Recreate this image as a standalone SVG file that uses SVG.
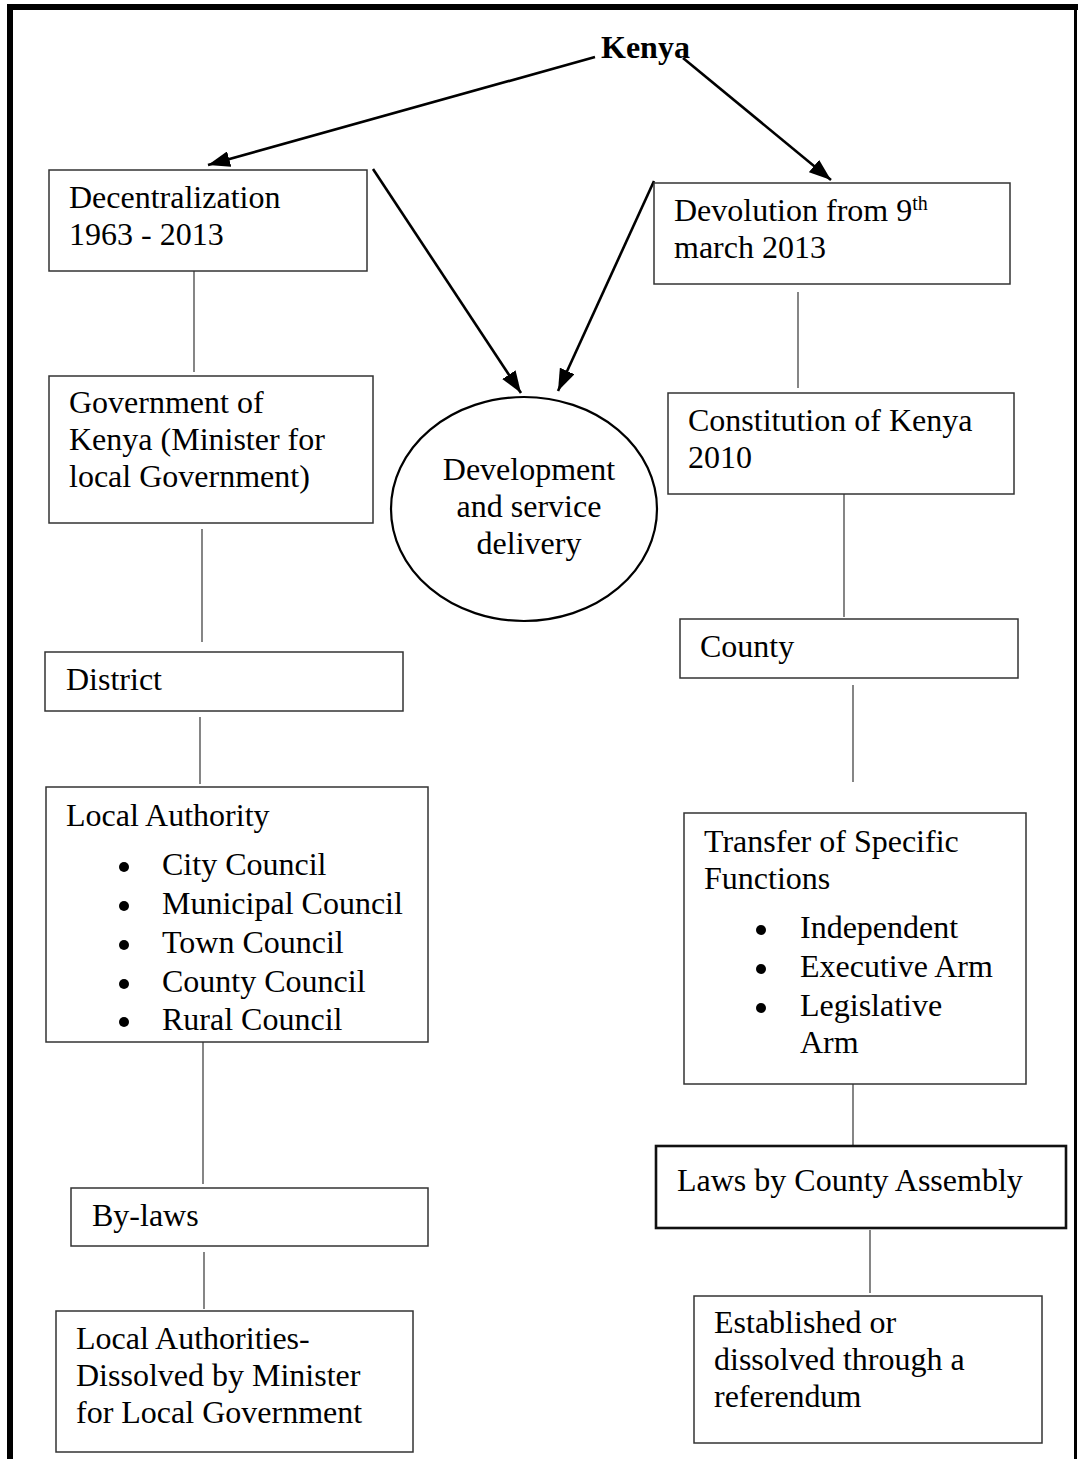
<svg xmlns="http://www.w3.org/2000/svg" width="1079" height="1459" viewBox="0 0 1079 1459">
<style>
text{font-family:"Liberation Serif","Times New Roman",serif;font-size:32px;fill:#000}
.b{font-weight:bold}
.box{fill:#fff;stroke:#333;stroke-width:1.5}
.thick{stroke:#111;stroke-width:2.6}
.con{stroke:#444;stroke-width:1.3;fill:none}
.arr{stroke:#000;stroke-width:2.6;fill:none;marker-end:url(#ah)}
.sup{font-size:20px}
</style>
<defs>
<marker id="ah" viewBox="0 0 22 16" refX="22" refY="8" markerWidth="22" markerHeight="16" markerUnits="userSpaceOnUse" orient="auto">
<path d="M0,0 L22,8 L0,16 z" fill="#000"/>
</marker>
</defs>
<rect width="1079" height="1459" fill="#fff"/>
<g id="frame">
<rect x="7" y="4" width="1071" height="6" fill="#000"/>
<rect x="7" y="4" width="6" height="1455" fill="#000"/>
<rect x="1074" y="4" width="3" height="1455" fill="#000"/>
</g>
<g id="connectors">
<line class="arr" x1="595" y1="57" x2="208" y2="165"/>
<line class="arr" x1="683" y1="58" x2="831" y2="180"/>
<line class="arr" x1="373" y1="169" x2="521" y2="393"/>
<line class="arr" x1="654" y1="181" x2="558" y2="391"/>
<line class="con" x1="194" y1="271" x2="194" y2="372"/>
<line class="con" x1="202" y1="529" x2="202" y2="642"/>
<line class="con" x1="200" y1="717" x2="200" y2="784"/>
<line class="con" x1="203" y1="1042" x2="203" y2="1184"/>
<line class="con" x1="204" y1="1252" x2="204" y2="1309"/>
<line class="con" x1="798" y1="292" x2="798" y2="388"/>
<line class="con" x1="844" y1="494" x2="844" y2="617"/>
<line class="con" x1="853" y1="685" x2="853" y2="782"/>
<line class="con" x1="853" y1="1084" x2="853" y2="1150"/>
<line class="con" x1="870" y1="1230" x2="870" y2="1293"/>
</g>
<g id="kenya"><text class="b" x="601" y="58">Kenya</text></g>
<g id="decentralization">
<rect class="box" x="49" y="170" width="318" height="101"/>
<text x="69" y="208">Decentralization</text>
<text x="69" y="245">1963 - 2013</text>
</g>
<g id="devolution">
<rect class="box" x="654" y="183" width="356" height="101"/>
<text x="674" y="221">Devolution from 9<tspan class="sup" dy="-11">th</tspan></text>
<text x="674" y="258">march 2013</text>
</g>
<g id="government">
<rect class="box" x="49" y="376" width="324" height="147"/>
<text x="69" y="413">Government of</text>
<text x="69" y="450">Kenya (Minister for</text>
<text x="69" y="487">local Government)</text>
</g>
<g id="development">
<ellipse cx="524" cy="509" rx="133" ry="112" fill="#fff" stroke="#000" stroke-width="2.2"/>
<text x="529" y="480" text-anchor="middle">Development</text>
<text x="529" y="517" text-anchor="middle">and service</text>
<text x="529" y="554" text-anchor="middle">delivery</text>
</g>
<g id="constitution">
<rect class="box" x="668" y="393" width="346" height="101"/>
<text x="688" y="431">Constitution of Kenya</text>
<text x="688" y="468">2010</text>
</g>
<g id="county">
<rect class="box" x="680" y="619" width="338" height="59"/>
<text x="700" y="657">County</text>
</g>
<g id="district">
<rect class="box" x="45" y="652" width="358" height="59"/>
<text x="66" y="690">District</text>
</g>
<g id="local-authority">
<rect class="box" x="46" y="787" width="382" height="255"/>
<text x="66" y="826">Local Authority</text>
<circle cx="124" cy="867" r="5"/><text x="162" y="875">City Council</text>
<circle cx="124" cy="906" r="5"/><text x="162" y="914">Municipal Council</text>
<circle cx="124" cy="945" r="5"/><text x="162" y="953">Town Council</text>
<circle cx="124" cy="984" r="5"/><text x="162" y="992">County Council</text>
<circle cx="124" cy="1022" r="5"/><text x="162" y="1030">Rural Council</text>
</g>
<g id="transfer">
<rect class="box" x="684" y="813" width="342" height="271"/>
<text x="704" y="852">Transfer of Specific</text>
<text x="704" y="889">Functions</text>
<circle cx="761" cy="930" r="5"/><text x="800" y="938">Independent</text>
<circle cx="761" cy="969" r="5"/><text x="800" y="977">Executive Arm</text>
<circle cx="761" cy="1008" r="5"/><text x="800" y="1016">Legislative</text>
<text x="800" y="1053">Arm</text>
</g>
<g id="laws">
<rect class="box thick" x="656" y="1146" width="410" height="82"/>
<text x="677" y="1191">Laws by County Assembly</text>
</g>
<g id="bylaws">
<rect class="box" x="71" y="1188" width="357" height="58"/>
<text x="92" y="1226">By-laws</text>
</g>
<g id="dissolved">
<rect class="box" x="56" y="1311" width="357" height="141"/>
<text x="76" y="1349">Local Authorities-</text>
<text x="76" y="1386">Dissolved by Minister</text>
<text x="76" y="1423">for Local Government</text>
</g>
<g id="established">
<rect class="box" x="694" y="1296" width="348" height="147"/>
<text x="714" y="1333">Established or</text>
<text x="714" y="1370">dissolved through a</text>
<text x="714" y="1407">referendum</text>
</g>
</svg>
